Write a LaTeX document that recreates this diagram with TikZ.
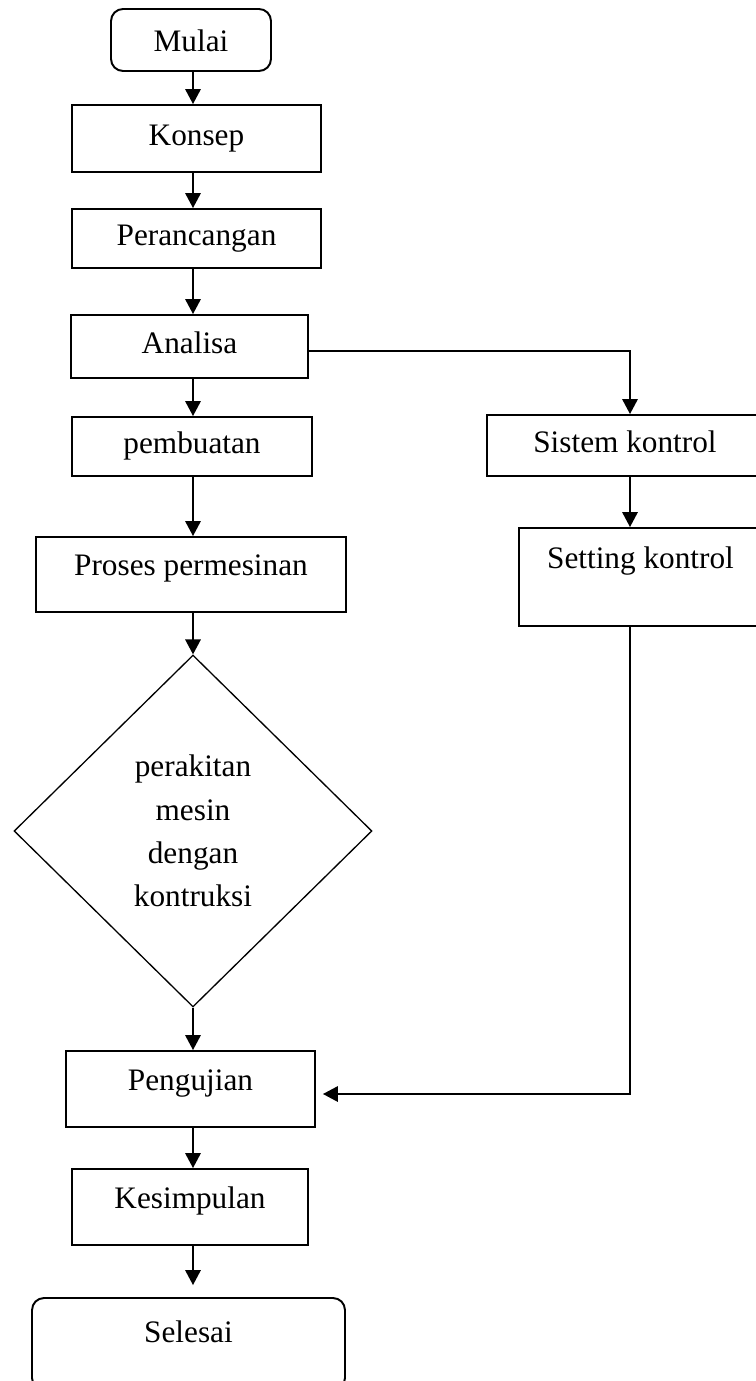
\documentclass[tikz,border=0pt]{standalone}
\usepackage{fontspec}
\setmainfont{Liberation Serif}
\usepackage{tikz}
\usetikzlibrary{shapes.geometric}
\usetikzlibrary{arrows.meta}
\tikzset{
    box/.style = {rectangle, draw=black, line width=1.1pt, align=center, inner sep=0pt, text height=0.4cm, text depth=0.12cm},
    term/.style = {box, rounded corners=0.24cm},
    decide/.style = {diamond, draw=black, line width=0.75pt, align=center, inner sep=0pt},
    arr/.style = {-{Triangle[length=0.3cm,width=0.31cm]}, line width=1pt},
}
\begin{document}
\begin{tikzpicture}[
	x=0.02cm, y=-0.02cm,
	font=\fontsize{17.8pt}{24.6pt}\selectfont
]
\clip (0,0) rectangle (756,1381);
\coordinate (spine) at (193,0);
\coordinate (split) at (630,351);
\coordinate (back) at (630,1094);
%
\node[term, minimum width=3.2cm, minimum height=1.24cm, text height=0.56cm, text depth=0.08cm] at (191,40) (mulai) {Mulai};
\node[box, minimum width=4.98cm, minimum height=1.34cm] at (196.5,138.5) (konsep) {Konsep};
\node[box, minimum width=4.98cm, minimum height=1.18cm] at (196.5,238.5) (perancangan) {Perancangan};
\node[box, minimum width=4.74cm, minimum height=1.26cm] at (189.5,346.5) (analisa) {Analisa};
\node[box, minimum width=4.8cm, minimum height=1.18cm] at (192,446.5) (pembuatan) {pembuatan};
\node[box, minimum width=6.2cm, minimum height=1.5cm, text depth=0.37cm] at (191,574.5) (proses) {Proses permesinan};
\node[decide, minimum width=7.16cm, minimum height=7.04cm] at (193,831) (rakit) {perakitan\\mesin\\dengan\\kontruksi};
\node[box, minimum width=4.98cm, minimum height=1.52cm, text depth=0.36cm] at (190.5,1089) (pengujian) {Pengujian};
\node[box, minimum width=4.72cm, minimum height=1.52cm, text depth=0.36cm] at (190,1207) (kesimpulan) {Kesimpulan};
\node[term, minimum width=6.26cm, minimum height=1.84cm, text depth=0.48cm] at (188.5,1344) (selesai) {Selesai};
%
\node[box, minimum width=5.52cm, minimum height=1.22cm] at (625,445.5) (sistem) {Sistem kontrol};
\node[box, minimum width=4.86cm, minimum height=1.96cm, text depth=0.76cm] at (640.5,577) (setting) {Setting kontrol};
%
\draw[arr] (mulai.south -| spine) -- (konsep.north -| spine);
\draw[arr] (konsep.south -| spine) -- (perancangan.north -| spine);
\draw[arr] (perancangan.south -| spine) -- (analisa.north -| spine);
\draw[arr] (analisa.south -| spine) -- (pembuatan.north -| spine);
\draw[arr] (pembuatan.south -| spine) -- (proses.north -| spine);
\draw[arr] (proses.south -| spine) -- (rakit.north);
\draw[arr] (rakit.south) -- (pengujian.north -| spine);
\draw[arr] (pengujian.south -| spine) -- (kesimpulan.north -| spine);
\draw[arr, shorten >=0.24cm] (kesimpulan.south -| spine) -- (selesai.north -| spine);
%
\draw[arr] (split -| analisa.east) -- (split) -- (split |- sistem.north);
\draw[arr] (sistem.south -| split) -- (setting.north -| split);
\draw[arr, shorten >=0.14cm] (setting.south -| back) -- (back) -- (back -| pengujian.east);
\end{tikzpicture}
\end{document}
